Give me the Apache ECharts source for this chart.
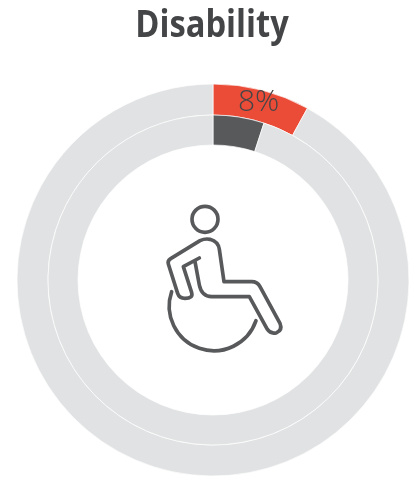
<!DOCTYPE html>
<html>
<head>
<meta charset="utf-8">
<style>html,body{margin:0;padding:0;background:#fff}#chart{width:411px;height:477px}</style>
<script src="https://cdn.jsdelivr.net/npm/echarts@6/dist/echarts.min.js"></script>
</head>
<body>
<div id="chart"></div>
<script>
const chartTitle = 'Disability';
const ringNames = ['Outer share', 'Inner share'];
const sharePercent = [8, 5];
const shareColors = ['#ea4c38', '#58595b'];
const restColor = '#e1e2e3';
const textColor = '#444547';

// Wheelchair user, drawn on a 3x grid and scaled down as a group
const headPath = 'M204 88 A39 39 0 1 1 126 88 A39 39 0 1 1 204 88 Z';
const bodyPath = 'M148 204 L100 230 L125 308 Q130 325 105 325 Q88 325 83 310 L55 222 Q52 212 62 206 L150 152 Q165 145 180 148 Q205 155 208 178 L222 275 L305 275 Q322 275 330 290 L390 400 Q398 420 380 428 Q362 433 352 418 L298 320 L185 320 Q155 320 148 285 L135 215';
const wheelPath = 'M65 305 A132 132 0 1 0 318 392';

function ring(i, radius, label) {
  return {
    type: 'pie',
    name: ringNames[i],
    center: [213, 280],
    radius: radius,
    startAngle: 90,
    clockwise: true,
    silent: true,
    animation: false,
    avoidLabelOverlap: false,
    itemStyle: { borderColor: '#fff', borderWidth: 0.7 },
    labelLine: { show: false },
    label: { show: false },
    data: [
      {
        value: sharePercent[i],
        itemStyle: { color: shareColors[i] },
        label: {
          show: true,
          position: 'inside',
          formatter: '{c}%',
          fontFamily: 'Open Sans',
          fontWeight: 300,
          fontSize: 30,
          color: textColor,
          align: 'center',
          verticalAlign: 'middle'
        },
        labelLayout: label
      },
      { value: 100 - sharePercent[i], itemStyle: { color: restColor } }
    ]
  };
}

// The icon is one custom item holding three stroked paths
function renderIcon() {
  return {
    type: 'group',
    x: 150,
    y: 190,
    scaleX: 1 / 3,
    scaleY: 1 / 3,
    silent: true,
    children: [headPath, bodyPath, wheelPath].map(function (d) {
      return {
        type: 'path',
        shape: { pathData: d, layout: 'none' },
        style: { fill: 'none', stroke: '#58595b', lineWidth: 11, lineJoin: 'round', lineCap: 'round' }
      };
    })
  };
}

const chart = echarts.init(document.getElementById('chart'), null, { renderer: 'canvas' });
chart.setOption({
  animation: false,
  series: [
    ring(0, [165, 196], { x: 325, y: 88, align: 'center', verticalAlign: 'middle' }),
    ring(1, [135, 165], { x: 231, y: 175, align: 'center', verticalAlign: 'middle' }),
    { type: 'custom', coordinateSystem: 'none', silent: true, animation: false, data: [0], renderItem: renderIcon }
  ],
  graphic: [{
    type: 'text',
    x: 212,
    y: 26,
    scaleX: 0.86,
    silent: true,
    style: {
      text: chartTitle,
      fontFamily: 'Open Sans',
      fontWeight: 'bold',
      fontSize: 38,
      fill: textColor,
      textAlign: 'center',
      textVerticalAlign: 'middle'
    }
  }]
});
</script>
</body>
</html>
